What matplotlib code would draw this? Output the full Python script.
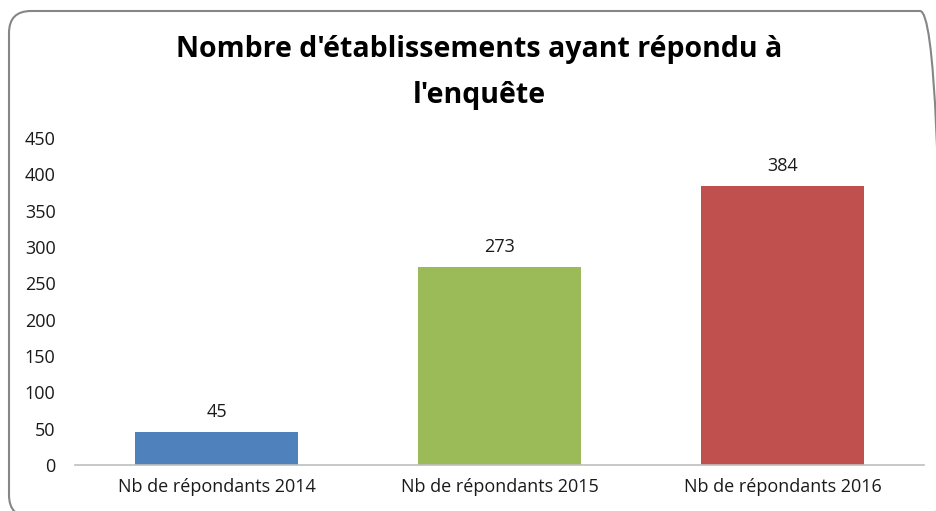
import matplotlib
matplotlib.use("Agg")
import matplotlib.pyplot as plt
from matplotlib.patches import FancyBboxPatch
from matplotlib.transforms import IdentityTransform

categories = ["Nb de répondants 2014", "Nb de répondants 2015", "Nb de répondants 2016"]
values = [45, 273, 384]
colors = ["#4F81BD", "#9BBB59", "#C0504D"]
yticks = [0, 50, 100, 150, 200, 250, 300, 350, 400, 450]

W, H = 937, 511
plt.rcParams['font.family'] = ['Open Sans', 'DejaVu Sans']
fig = plt.figure(figsize=(W / 100, H / 100), dpi=100)

# rounded chart border (pixel coordinates, origin bottom-left)
x0, x1 = 9, 942
ytop, ybot = H - 11, -6
border = FancyBboxPatch((x0, ybot), x1 - x0, ytop - ybot,
                        boxstyle="round,pad=0,rounding_size=22",
                        transform=IdentityTransform(), facecolor="none",
                        edgecolor="#868686", linewidth=1.5, zorder=-5)
fig.patches.append(border)

ax = fig.add_axes([75 / W, 1 - 465 / H, (924 - 75) / W, (465 - 138) / H])
ax.patch.set_alpha(0)
x = range(len(categories))
bars = ax.bar(x, values, width=0.575, color=colors, zorder=2)
ax.set_xlim(-0.5, 2.5)
ax.set_ylim(0, 450)
ax.set_yticks(yticks)
ax.set_xticks(list(x))
ax.set_xticklabels(categories)
for s in ["top", "right", "left"]:
    ax.spines[s].set_visible(False)
ax.spines["bottom"].set_color("#BFBFBF")
ax.spines["bottom"].set_linewidth(1.2)
ax.tick_params(axis="both", length=0, labelsize=13, colors="#1a1a1a")
ax.tick_params(axis="y", pad=14)
ax.tick_params(axis="x", pad=9)

for b, v in zip(bars, values):
    ax.annotate(str(v), (b.get_x() + b.get_width() / 2, v), xytext=(0, 8),
                textcoords="offset points", ha="center", va="bottom",
                fontsize=13, color="#1a1a1a")

fig.text(479 / W, 1 - 50 / H, "Nombre d'établissements ayant répondu à",
         ha="center", va="center", fontsize=20.5, fontweight="bold")
fig.text(479 / W, 1 - 95 / H, "l'enquête", ha="center", va="center",
         fontsize=20.5, fontweight="bold")

fig.savefig("out.png", dpi=100)
